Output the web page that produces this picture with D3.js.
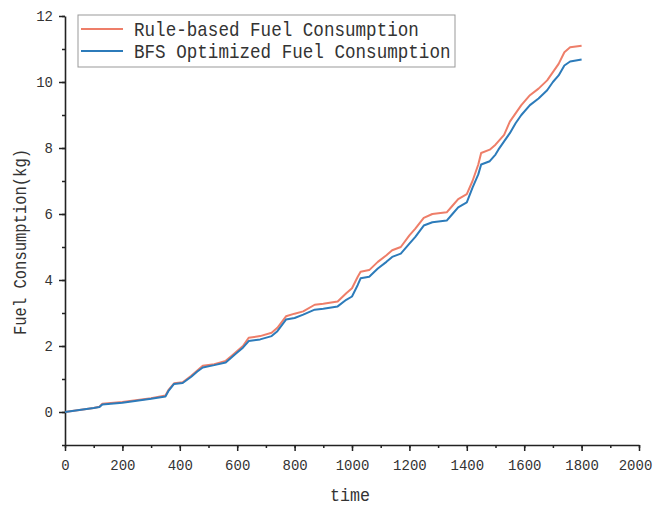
<!DOCTYPE html>
<html>
<head>
<meta charset="utf-8">
<script src="https://cdn.jsdelivr.net/npm/d3@7"></script>
<style>
  body { margin: 0; background: #fff; }
  text { font-family: "Liberation Mono", "DejaVu Sans Mono", monospace; fill: #333; }
</style>
</head>
<body>
<svg id="chart" width="658" height="506"></svg>
<script>
// time samples (s) shared by both series
const times = [0, 100, 120, 130, 200, 300, 350, 360, 380, 410, 440, 460, 480, 520, 560, 580, 600, 620, 640, 680,
  720, 740, 770, 800, 830, 870, 900, 950, 980, 1000, 1020, 1030, 1060, 1090, 1120, 1140, 1170, 1200, 1220, 1250,
  1280, 1330, 1350, 1370, 1400, 1420, 1440, 1450, 1480, 1500, 1510, 1530, 1550, 1570, 1590, 1620, 1650, 1680,
  1700, 1720, 1740, 1760, 1800];

const ruleFuel = [0, 0.12, 0.16, 0.25, 0.3, 0.42, 0.5, 0.66, 0.87, 0.9, 1.1, 1.25, 1.4, 1.45, 1.55, 1.7, 1.85, 2.0, 2.25, 2.3,
  2.4, 2.55, 2.9, 2.98, 3.05, 3.25, 3.28, 3.35, 3.6, 3.75, 4.1, 4.25, 4.3, 4.55, 4.75, 4.9, 5.0, 5.35, 5.55, 5.88,
  6.0, 6.05, 6.25, 6.45, 6.6, 7.0, 7.5, 7.85, 7.95, 8.1, 8.2, 8.4, 8.8, 9.05, 9.3, 9.6, 9.8, 10.05,
  10.3, 10.55, 10.9, 11.05, 11.1];

const bfsFuel = [0, 0.12, 0.15, 0.23, 0.28, 0.4, 0.47, 0.63, 0.85, 0.88, 1.07, 1.22, 1.35, 1.42, 1.5, 1.65, 1.8, 1.95, 2.15, 2.2,
  2.3, 2.45, 2.8, 2.85, 2.95, 3.1, 3.13, 3.2, 3.4, 3.5, 3.85, 4.05, 4.1, 4.35, 4.55, 4.7, 4.8, 5.1, 5.3, 5.65,
  5.75, 5.8, 6.0, 6.2, 6.35, 6.8, 7.2, 7.5, 7.6, 7.8, 7.95, 8.2, 8.45, 8.75, 9.0, 9.3, 9.5, 9.75,
  10.0, 10.2, 10.5, 10.62, 10.68];

const seriesNames = ["Rule-based Fuel Consumption", "BFS Optimized Fuel Consumption"];
const seriesColors = ["#ee7e69", "#2c7bba"];

const xTicks = [0, 200, 400, 600, 800, 1000, 1200, 1400, 1600, 1800, 2000];
const yTicks = [0, 2, 4, 6, 8, 10, 12];

const svg = d3.select("#chart");
const margin = { left: 65, right: 19, top: 16, bottom: 61 };
const width = 658, height = 506;

const x = d3.scaleLinear().domain([0, 2000]).range([margin.left, width - margin.right]);
const y = d3.scaleLinear().domain([-1, 12]).range([height - margin.bottom, margin.top]);

// minor ticks first
const xMinor = d3.range(0, 2001, 100);
const yMinor = d3.range(-1, 13, 1);

svg.append("g")
  .attr("transform", `translate(0,${y(-1)})`)
  .call(d3.axisBottom(x).tickValues(xMinor).tickSize(3).tickFormat(""))
  .call(g => g.select(".domain").remove())
  .selectAll("line").attr("stroke", "#222").attr("stroke-width", 1.5);

svg.append("g")
  .attr("transform", `translate(${x(0)},0)`)
  .call(d3.axisLeft(y).tickValues(yMinor).tickSize(3).tickFormat(""))
  .call(g => g.select(".domain").remove())
  .selectAll("line").attr("stroke", "#222").attr("stroke-width", 1.5);

// major axes
const xAxis = svg.append("g")
  .attr("transform", `translate(0,${y(-1)})`)
  .call(d3.axisBottom(x).tickValues(xTicks).tickFormat(d3.format("d"))
    .tickSize(6).tickSizeOuter(0).tickPadding(8));

const yAxis = svg.append("g")
  .attr("transform", `translate(${x(0)},0)`)
  .call(d3.axisLeft(y).tickValues(yTicks).tickFormat(d3.format("d"))
    .tickSize(6).tickSizeOuter(0).tickPadding(6));

[xAxis, yAxis].forEach(ax => {
  ax.select(".domain").attr("stroke", "#222").attr("stroke-width", 1.6);
  ax.selectAll(".tick line").attr("stroke", "#222").attr("stroke-width", 1.5);
  ax.selectAll(".tick text")
    .style("font-family", "'Liberation Mono', monospace")
    .style("font-size", "15.5px")
    .attr("fill", "#333")
    .each(function () {
      const n = this.textContent.length;
      d3.select(this).attr("textLength", n * 8.4).attr("lengthAdjust", "spacingAndGlyphs");
    });
});

// keep the last x label inside the page
xAxis.selectAll(".tick text").filter(d => d === 2000).attr("dx", -4);

// lines
const line = d3.line().x((d, i) => x(times[i])).y(d => y(d));
[ruleFuel, bfsFuel].forEach((vals, k) => {
  svg.append("path")
    .datum(vals)
    .attr("fill", "none")
    .attr("stroke", seriesColors[k])
    .attr("stroke-width", 2)
    .attr("stroke-linejoin", "round")
    .attr("d", line);
});

// axis titles
svg.append("text")
  .attr("x", x(1000) - 2)
  .attr("y", 501)
  .attr("text-anchor", "middle")
  .style("font-size", "19px")
  .attr("textLength", 40).attr("lengthAdjust", "spacingAndGlyphs")
  .text("time");

svg.append("text")
  .attr("transform", "translate(26,242) rotate(-90)")
  .attr("text-anchor", "middle")
  .style("font-size", "19px")
  .attr("textLength", 186).attr("lengthAdjust", "spacingAndGlyphs")
  .text("Fuel Consumption(kg)");

// legend
const legend = svg.append("g");
legend.append("rect")
  .attr("x", 78).attr("y", 15).attr("width", 377).attr("height", 52)
  .attr("fill", "#fff").attr("stroke", "#999").attr("stroke-width", 1);

seriesNames.forEach((name, k) => {
  const ly = 29 + k * 22;
  legend.append("line")
    .attr("x1", 81).attr("x2", 123).attr("y1", ly).attr("y2", ly)
    .attr("stroke", seriesColors[k]).attr("stroke-width", 2);
  legend.append("text")
    .attr("x", 134).attr("y", ly + 7)
    .style("font-size", "21px")
    .attr("textLength", name.length * 10.55).attr("lengthAdjust", "spacingAndGlyphs")
    .text(name);
});
</script>
</body>
</html>
